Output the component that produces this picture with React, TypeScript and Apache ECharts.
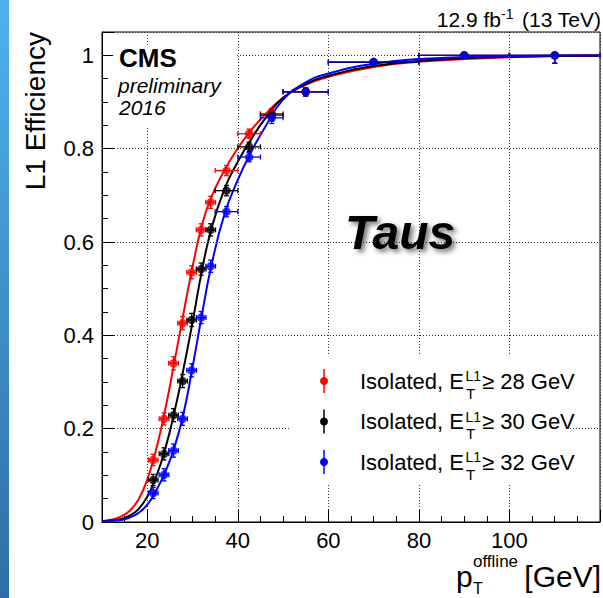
import React, { useEffect, useRef } from 'react';
import * as echarts from 'echarts';

// ---- data ----
const ptValues = [21.3, 23.7, 25.8, 27.8, 29.8, 31.9, 34.0, 37.5, 42.5, 47.5, 55, 70, 90, 110];
const ptErr = [1.07, 1.07, 1.07, 1.07, 1.07, 1.07, 1.07, 2.5, 2.5, 2.5, 5, 10, 10, 10];
const effRed = [0.133, 0.221, 0.34, 0.426, 0.535, 0.626, 0.685, 0.753, 0.832, 0.875, 0.922, 0.985, 1.0, 1.0];
const effBlack = [0.09, 0.146, 0.229, 0.302, 0.433, 0.542, 0.626, 0.71, 0.804, 0.872, 0.922, 0.985, 1.0, 1.0];
const effBlue = [0.062, 0.101, 0.153, 0.221, 0.325, 0.438, 0.548, 0.665, 0.782, 0.866, 0.922, 0.986, 1.0, 1.0];
const effErrLow = [0.012, 0.013, 0.014, 0.014, 0.014, 0.013, 0.013, 0.011, 0.01, 0.012, 0.009, 0.006, 0.004, 0.017];
const effErrHigh = [0.012, 0.013, 0.014, 0.014, 0.014, 0.013, 0.013, 0.011, 0.01, 0.011, 0.008, 0.005, 0.002, 0.0];

// fitted turn-on curves
const fitPt = [10, 12, 14, 16, 18, 20, 22, 24, 26, 28, 30, 32, 34, 37, 40, 43, 46, 50, 55, 60, 70, 80, 100, 120];
const fitRed = [0.002, 0.005, 0.011, 0.023, 0.047, 0.091, 0.157, 0.243, 0.343, 0.447, 0.547, 0.633, 0.693, 0.753, 0.801, 0.84, 0.873, 0.909, 0.937, 0.954, 0.975, 0.986, 0.996, 0.999];
const fitBlack = [0.001, 0.003, 0.006, 0.013, 0.027, 0.054, 0.098, 0.158, 0.236, 0.328, 0.428, 0.535, 0.622, 0.712, 0.772, 0.821, 0.864, 0.909, 0.938, 0.956, 0.977, 0.988, 0.997, 0.999];
const fitBlue = [0.001, 0.002, 0.004, 0.009, 0.019, 0.037, 0.068, 0.108, 0.16, 0.232, 0.332, 0.44, 0.542, 0.658, 0.733, 0.794, 0.846, 0.905, 0.942, 0.961, 0.982, 0.992, 0.998, 1.0];

const seriesNames = ['Isolated, E_T^L1 >= 28 GeV', 'Isolated, E_T^L1 >= 30 GeV', 'Isolated, E_T^L1 >= 32 GeV'];
const legendThresholds = ['28', '30', '32'];
const xTickLabels = [20, 40, 60, 80, 100];
const yTickLabels = [0, 0.2, 0.4, 0.6, 0.8, 1];

const FONT = '"Liberation Sans", Arial, Helvetica, sans-serif';
const RED = '#ff0000';
const BLACK = '#000000';
const BLUE = '#0000ff';

function txt(text: string, x: number, y: number, fontSize: number, extra: any = {}) {
  return {
    type: 'text',
    x,
    y,
    z: 10,
    silent: true,
    style: {
      text,
      fontSize,
      fontFamily: FONT,
      fill: '#000',
      align: extra.align || 'left',
      textAlign: extra.align || 'left',
      verticalAlign: 'middle',
      textVerticalAlign: 'middle',
      fontWeight: extra.fontWeight || 'normal',
      fontStyle: extra.fontStyle || 'normal',
      ...(extra.style || {}),
    },
    ...(extra.el || {}),
  };
}

function errSeries(name: string, ys: number[], color: string) {
  return {
    type: 'custom',
    name,
    silent: true,
    z: 4,
    data: ptValues.map((x, i) => [x, ys[i], ptErr[i], effErrLow[i], effErrHigh[i]]),
    encode: { x: 0, y: 1 },
    renderItem: (_params: any, api: any) => {
      const x = api.value(0);
      const y = api.value(1);
      const ex = api.value(2);
      const el = api.value(3);
      const eh = api.value(4);
      const l = api.coord([x - ex, y]);
      const r = api.coord([x + ex, y]);
      const b = api.coord([x, y - el]);
      const t = api.coord([x, y + eh]);
      const c = 2.5;
      const st = { stroke: color, lineWidth: 1.3 };
      const ln = (x1: number, y1: number, x2: number, y2: number) => ({
        type: 'line',
        shape: { x1, y1, x2, y2 },
        style: st,
      });
      return {
        type: 'group',
        children: [
          ln(l[0], l[1], r[0], r[1]),
          ln(l[0], l[1] - c, l[0], l[1] + c),
          ln(r[0], r[1] - c, r[0], r[1] + c),
          ln(b[0], b[1], t[0], t[1]),
          ln(b[0] - c, b[1], b[0] + c, b[1]),
          ln(t[0] - c, t[1], t[0] + c, t[1]),
        ],
      };
    },
  };
}

function fitSeries(name: string, ys: number[], color: string) {
  return {
    type: 'line',
    name,
    silent: true,
    z: 3,
    data: fitPt.map((x, i) => [x, ys[i]]),
    showSymbol: false,
    symbol: 'none',
    smooth: 0.5,
    lineStyle: { color, width: 2 },
  };
}

function pointSeries(name: string, ys: number[], color: string) {
  return {
    type: 'scatter',
    name,
    silent: true,
    z: 5,
    data: ptValues.map((x, i) => [x, ys[i]]),
    symbol: 'circle',
    symbolSize: 8.5,
    itemStyle: { color },
  };
}

export default function App() {
  const ref = useRef<HTMLDivElement>(null);
  useEffect(() => {
    if (!ref.current) return;
    const chart = echarts.init(ref.current, undefined, { renderer: 'svg', width: 603, height: 598 });
    const colors = [RED, BLACK, BLUE];
    const effs = [effRed, effBlack, effBlue];
    const fits = [fitRed, fitBlack, fitBlue];

    const series: any[] = [];
    for (let k = 0; k < 3; k++) {
      series.push(fitSeries(seriesNames[k] + ' fit', fits[k], colors[k]));
      series.push(errSeries(seriesNames[k] + ' err', effs[k], colors[k]));
      series.push(pointSeries(seriesNames[k], effs[k], colors[k]));
    }

    const legendRows = [381, 421.5, 462];
    const legendGraphics: any[] = [];
    legendRows.forEach((ry, k) => {
      legendGraphics.push({
        type: 'line',
        z: 10,
        silent: true,
        shape: { x1: 324, y1: ry - 12, x2: 324, y2: ry + 12 },
        style: { stroke: colors[k], lineWidth: 1.5 },
      });
      legendGraphics.push({
        type: 'circle',
        z: 10,
        silent: true,
        shape: { cx: 324, cy: ry, r: 4 },
        style: { fill: colors[k] },
      });
      legendGraphics.push(txt('Isolated, E', 360, ry, 22));
      legendGraphics.push(txt('L1', 465.5, ry - 5, 14));
      legendGraphics.push(txt('T', 466, ry + 12, 15));
      legendGraphics.push(txt('\u2265 ' + legendThresholds[k] + ' GeV', 482, ry, 22));
    });

    const option: any = {
      animation: false,
      backgroundColor: '#ffffff',
      grid: {
        left: 102,
        right: 2,
        top: 32,
        bottom: 76,
        show: true,
        borderColor: '#000',
        borderWidth: 1,
        backgroundColor: 'transparent',
      },
      xAxis: {
        type: 'value',
        min: 10,
        max: 120,
        minInterval: 20,
        maxInterval: 20,
        splitNumber: 5,
        axisLine: { show: true, onZero: false, lineStyle: { color: '#000', width: 1 } },
        axisTick: { show: true, inside: true, length: 12, lineStyle: { color: '#000', width: 1 } },
        minorTick: { show: true, splitNumber: 4, length: 6, lineStyle: { color: '#000', width: 1 } },
        axisLabel: {
          show: true,
          margin: 7,
          fontSize: 22,
          fontFamily: FONT,
          color: '#000',
          showMinLabel: true,
          showMaxLabel: true,
          formatter: (v: number) => (xTickLabels.indexOf(Math.round(v * 1000) / 1000) >= 0 ? String(v) : ''),
        },
        splitLine: { show: true, lineStyle: { color: '#333', width: 1, type: [1, 2] } },
        minorSplitLine: { show: false },
      },
      yAxis: {
        type: 'value',
        min: 0,
        max: 1.05,
        interval: 0.2,
        axisLine: { show: true, onZero: false, lineStyle: { color: '#000', width: 1 } },
        axisTick: { show: true, inside: true, length: 12, lineStyle: { color: '#000', width: 1 } },
        minorTick: { show: true, splitNumber: 4, length: 6, lineStyle: { color: '#000', width: 1 } },
        axisLabel: {
          show: true,
          margin: 8,
          fontSize: 22,
          fontFamily: FONT,
          color: '#000',
          formatter: (v: number) => {
            const r = Math.round(v * 1000) / 1000;
            return yTickLabels.indexOf(r) >= 0 ? String(r) : '';
          },
        },
        splitLine: { show: true, lineStyle: { color: '#333', width: 1, type: [1, 2] } },
      },
      graphic: [
        {
          type: 'rect',
          z: 0,
          silent: true,
          shape: { x: 0, y: 0, width: 9, height: 598 },
          style: {
            fill: new echarts.graphic.LinearGradient(0, 0, 0, 1, [
              { offset: 0, color: '#4fb2ec' },
              { offset: 1, color: '#2f6ea6' },
            ]),
          },
        },
        // CMS label box
        {
          type: 'rect',
          z: 1,
          silent: true,
          shape: { x: 113, y: 47, width: 123, height: 80 },
          style: { fill: '#fff' },
        },
        txt('CMS', 119, 58, 26, { fontWeight: 'bold' }),
        txt('preliminary', 118, 85.5, 21, { fontStyle: 'italic' }),
        txt('2016', 119, 107.5, 21, { fontStyle: 'italic' }),
        // legend box
        {
          type: 'rect',
          z: 1,
          silent: true,
          shape: { x: 290, y: 356, width: 280, height: 129 },
          style: { fill: '#fff' },
        },
        ...legendGraphics,
        // Taus
        txt('Taus', 345, 232, 48, {
          fontWeight: 'bold',
          fontStyle: 'italic',
          style: {
            textShadowColor: 'rgba(0,0,0,0.55)',
            textShadowBlur: 5,
            textShadowOffsetX: 3,
            textShadowOffsetY: 3,
          },
        }),
        // luminosity label
        txt('12.9 fb', 501, 19, 21, { align: 'right' }),
        txt('-1', 501, 14, 14, { align: 'left' }),
        txt(' (13 TeV)', 601, 19, 21, { align: 'right' }),
        // y axis title
        txt('L1 Efficiency', 35, 32, 28, { align: 'right', el: { rotation: Math.PI / 2 } }),
        // x axis title
        txt('p', 456, 576, 30),
        txt('offline', 473, 561, 17),
        txt('T', 473, 588, 16),
        txt('[GeV]', 601, 576, 30, { align: 'right' }),
      ],
      series,
    };
    chart.setOption(option);
    return () => chart.dispose();
  }, []);
  return (
    <div
      ref={ref}
      style={{ position: 'absolute', left: 0, top: 0, width: 603, height: 598, background: '#fff' }}
    />
  );
}
